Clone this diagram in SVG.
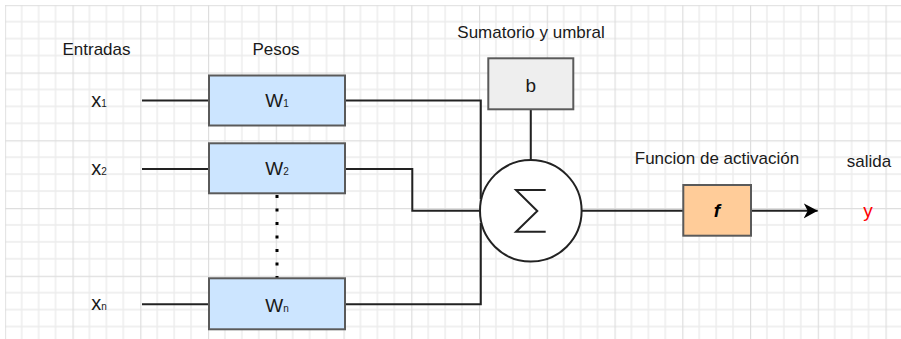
<svg xmlns="http://www.w3.org/2000/svg" width="901" height="339" viewBox="0 0 901 339">
  <defs>
    <!-- background grid: minor step 16.94, major every 4 steps -->
    <pattern id="grid" patternUnits="userSpaceOnUse" x="4.75" y="4.75" width="67.75" height="67.75">
      <path d="M16.94 0V67.75M33.88 0V67.75M50.81 0V67.75M0 16.94H67.75M0 33.88H67.75M0 50.81H67.75" fill="none" stroke="#ececec" stroke-width="1.4"/>
      <path d="M0.5 0V67.75M0 0.5H67.75" fill="none" stroke="#dedede" stroke-width="1.4"/>
    </pattern>
    <marker id="arrow" markerWidth="16" markerHeight="16" refX="14" refY="8" orient="auto" markerUnits="userSpaceOnUse">
      <path d="M0 0.5L14 8L0 15.5L4 8Z" fill="#000"/>
    </marker>
    <style>
      .lbl { font-family: "Liberation Sans", Arial, sans-serif; font-size: 17px; fill: #1a1a1a; text-anchor: middle; }
      .var { font-family: "Liberation Sans", Arial, sans-serif; font-size: 20px; fill: #1a1a1a; text-anchor: middle; }
      .wgt { font-family: "Liberation Sans", Arial, sans-serif; font-size: 19px; fill: #1a1a1a; text-anchor: middle; }
      .sub { font-size: 10px; }
      .box { stroke: #5a5a5a; stroke-width: 2; }
      .w { fill: #cce5ff; }
      .wire { fill: none; stroke: #222; stroke-width: 2; }
    </style>
  </defs>

  <rect x="0" y="0" width="901" height="339" fill="#fff"/>
  <rect x="5" y="5" width="896" height="334" fill="url(#grid)"/>

  <!-- headings -->
  <g id="headings">
    <text class="lbl" x="96.5" y="55">Entradas</text>
    <text class="lbl" x="276" y="55">Pesos</text>
    <text class="lbl" x="531" y="38">Sumatorio y umbral</text>
    <text class="lbl" x="717" y="164">Funcion de activación</text>
    <text class="lbl" x="869" y="167">salida</text>
  </g>

  <!-- connectors -->
  <g id="connectors">
    <path class="wire" d="M142 100.5H209"/>
    <path class="wire" d="M142 169H209"/>
    <path class="wire" d="M142 304.3H209"/>
    <path class="wire" d="M345 100.5H480.8V199"/>
    <path class="wire" d="M345 169H412.3V210.8H480"/>
    <path class="wire" d="M345 304.3H480.8V223"/>
    <path class="wire" d="M530.8 109.3V160"/>
    <path class="wire" d="M581.7 210.8H683.3"/>
    <path class="wire" d="M751 210.8H817.7" marker-end="url(#arrow)"/>
    <path d="M277 195V278" fill="none" stroke="#000" stroke-width="3" stroke-dasharray="3 10.5"/>
  </g>

  <!-- inputs -->
  <g id="x1"><text class="var" x="99" y="107.3">x<tspan class="sub">1</tspan></text></g>
  <g id="x2"><text class="var" x="99" y="175">x<tspan class="sub">2</tspan></text></g>
  <g id="xn"><text class="var" x="99" y="310">x<tspan class="sub">n</tspan></text></g>

  <!-- weights -->
  <g id="w1">
    <rect class="box w" x="209" y="75.5" width="136" height="50"/>
    <text class="wgt" x="277" y="106.7">W<tspan class="sub">1</tspan></text>
  </g>
  <g id="w2">
    <rect class="box w" x="209" y="143.3" width="136" height="50"/>
    <text class="wgt" x="277" y="175">W<tspan class="sub">2</tspan></text>
  </g>
  <g id="wn">
    <rect class="box w" x="209" y="278.3" width="136" height="51"/>
    <text class="wgt" x="277" y="311.5">W<tspan class="sub">n</tspan></text>
  </g>

  <!-- bias -->
  <g id="bias">
    <rect class="box" x="488.3" y="58.3" width="85" height="51" fill="#eeeeee"/>
    <text class="lbl" x="530.8" y="92.3" style="font-size:19px">b</text>
  </g>

  <!-- summation -->
  <g id="sum">
    <circle cx="530.8" cy="210.8" r="50.8" fill="#fff" stroke="#222" stroke-width="2"/>
    <path d="M545.7 190H516L537.3 211L516 231.7H545.7" fill="none" stroke="#222" stroke-width="2"/>
  </g>

  <!-- activation -->
  <g id="activation">
    <rect class="box" x="683.3" y="185" width="67.7" height="50.7" fill="#ffcc99"/>
    <text class="lbl" x="717" y="216.7" style="font-size:19px;font-style:italic;font-weight:bold;fill:#000">f</text>
  </g>

  <!-- output -->
  <g id="output">
    <text class="lbl" x="868" y="216.5" style="font-size:19px;fill:#ff0000">y</text>
  </g>
</svg>
